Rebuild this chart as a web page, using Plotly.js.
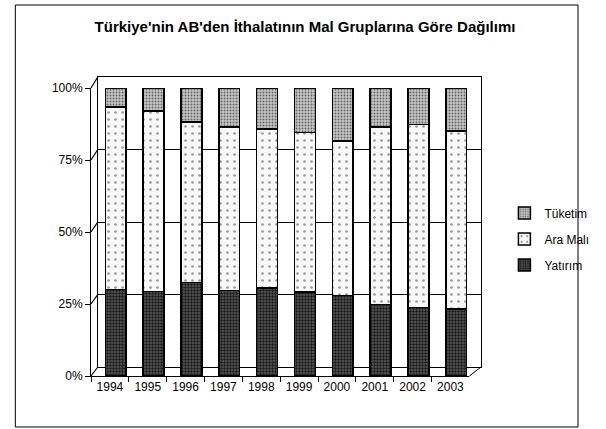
<!DOCTYPE html>
<html>
<head>
<meta charset="utf-8">
<script src="https://cdn.plot.ly/plotly-3.0.1.min.js"></script>
<style>html,body{margin:0;padding:0;background:#fff}#chart{width:606px;height:429px}</style>
</head>
<body>
<div id="chart"></div>
<script>
const years = ['1994','1995','1996','1997','1998','1999','2000','2001','2002','2003'];
const yatirim = [30.0, 29.4, 32.5, 29.7, 30.5, 29.1, 28.0, 24.9, 23.8, 23.3];
const araMali = [63.4, 62.6, 55.7, 56.8, 55.2, 55.4, 53.6, 61.6, 63.6, 61.7];
const tuketim = [6.6, 8.0, 11.8, 13.5, 14.3, 15.5, 18.4, 13.5, 12.6, 15.0];
const seriesNames = ['Yatırım', 'Ara Malı', 'Tüketim'];
const yTicks = [0, 25, 50, 75, 100];

// geometry (pixels in 606x429)
const L = 91, R = 493, T = 77, B = 376;
const W = R - L, H = B - T;
const frontX1 = (481 - L) / W, frontY1 = (B - 88) / H;
const backX0 = (98 - L) / W, backY0 = (B - 367) / H;

const line = {color: '#000', width: 1.5};
function barTrace(name, vals, bg, fg, size, sol, rank) {
  return {
    type: 'bar', name: name, x: years, y: vals,
    xaxis: 'x2', yaxis: 'y2', width: 0.55, offset: -0.12,
    legendgroup: name, legendrank: rank,
    marker: {color: bg, line: line,
      pattern: {shape: '.', bgcolor: bg, fgcolor: fg, size: size, solidity: sol, fillmode: 'replace'}},
    hoverinfo: 'skip'
  };
}
const data = [
  {type: 'scatter', x: [years[0]], y: [null], xaxis: 'x', yaxis: 'y', showlegend: false, hoverinfo: 'skip', mode: 'markers'},
  barTrace(seriesNames[0], yatirim, '#5a5a5a', '#1a1a1a', 3, 0.5, 3),
  barTrace(seriesNames[1], araMali, '#f8f8f8', '#9a9a9a', 7, 0.12, 2),
  barTrace(seriesNames[2], tuketim, '#c8c8c8', '#666666', 3, 0.35, 1)
];

const shapes = [];
yTicks.forEach(v => {
  shapes.push({type: 'line', xref: 'paper', yref: 'paper',
    x0: 0, y0: frontY1 * v / 100, x1: backX0, y1: backY0 + (1 - backY0) * v / 100,
    line: {color: '#000', width: 1.2}});
});
shapes.push({type: 'line', xref: 'paper', yref: 'paper', x0: frontX1, y0: 0, x1: 1, y1: backY0,
  line: {color: '#000', width: 1}});
shapes.push({type: 'rect', xref: 'paper', yref: 'paper',
  x0: (13 - L) / W, x1: (593 - L) / W, y0: (B - 427) / H, y1: (B - 5) / H,
  line: {color: '#000', width: 1}});

const font = {family: 'Arial, "Liberation Sans", sans-serif', color: '#000'};
const layout = {
  width: 606, height: 429,
  margin: {l: L, r: 606 - R, t: T, b: 429 - B, pad: 0},
  paper_bgcolor: '#fff', plot_bgcolor: 'rgba(0,0,0,0)',
  barmode: 'stack', showlegend: true,
  font: Object.assign({size: 12}, font),
  title: {text: "<b>Türkiye'nin AB'den İthalatının Mal Gruplarına Göre Dağılımı</b>",
    x: 305 / 606, xanchor: 'center', xref: 'container', y: 1 - 27 / 429, yanchor: 'middle', yref: 'container',
    font: Object.assign({size: 15}, font)},
  xaxis: {domain: [backX0, 1], type: 'category', categoryarray: years, anchor: 'y',
    showticklabels: false, ticks: '', showgrid: false, showline: true, linecolor: '#000', linewidth: 1, mirror: true, zeroline: false},
  yaxis: {domain: [backY0, 1], range: [0, 100], anchor: 'x', showticklabels: false, ticks: '',
    tickvals: [25, 50, 75], showgrid: true, gridcolor: '#000', gridwidth: 1,
    showline: true, linecolor: '#000', linewidth: 1, mirror: true, zeroline: false},
  xaxis2: {domain: [0, frontX1], type: 'category', categoryarray: years, anchor: 'y2',
    tickson: 'boundaries', ticks: 'outside', ticklen: 5, tickcolor: '#000', tickwidth: 1,
    showline: true, linecolor: '#000', linewidth: 1, showgrid: false, zeroline: false,
    tickfont: Object.assign({size: 12}, font)},
  yaxis2: {domain: [0, frontY1], range: [0, 100], anchor: 'x2',
    tickvals: yTicks, ticktext: yTicks.map(v => v + '%'), ticks: 'outside', ticklen: 5,
    tickcolor: '#000', tickwidth: 1, showline: true, linecolor: '#000', linewidth: 1,
    showgrid: false, zeroline: false, tickfont: Object.assign({size: 12}, font)},
  legend: {x: 1.06, xanchor: 'left', y: (B - 239) / H, yanchor: 'middle',
    traceorder: 'grouped', tracegroupgap: 7, itemwidth: 30,
    font: Object.assign({size: 12}, font), bgcolor: 'rgba(0,0,0,0)'},
  shapes: shapes
};
Plotly.newPlot('chart', data, layout, {displayModeBar: false, staticPlot: true});
</script>
</body>
</html>
